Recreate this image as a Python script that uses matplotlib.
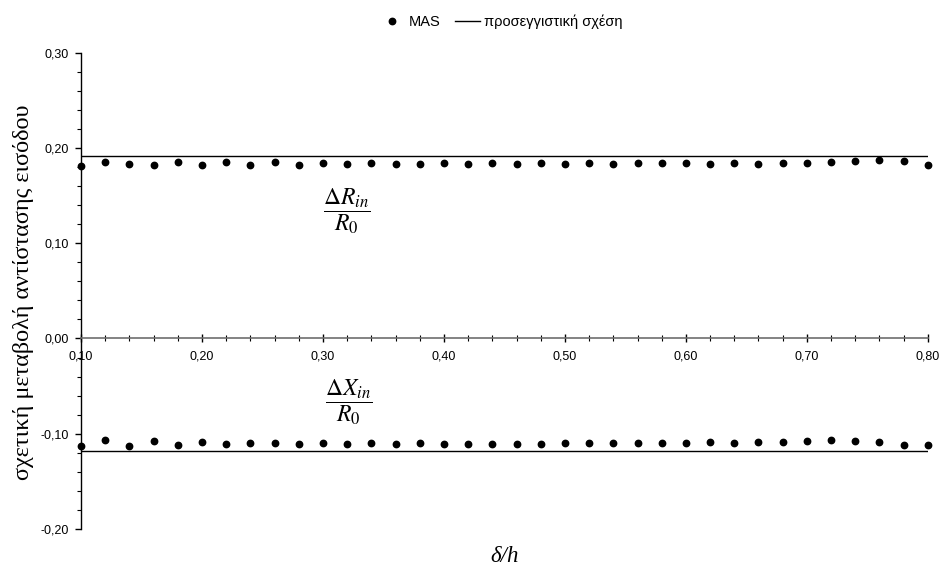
import matplotlib
matplotlib.use('Agg')
import matplotlib.pyplot as plt
import numpy as np
from matplotlib.ticker import MultipleLocator, FuncFormatter

# data
delta_h = [0.10, 0.12, 0.14, 0.16, 0.18, 0.20, 0.22, 0.24, 0.26, 0.28,
           0.30, 0.32, 0.34, 0.36, 0.38, 0.40, 0.42, 0.44, 0.46, 0.48,
           0.50, 0.52, 0.54, 0.56, 0.58, 0.60, 0.62, 0.64, 0.66, 0.68,
           0.70, 0.72, 0.74, 0.76, 0.78, 0.80]
mas_R = [0.1806, 0.1852, 0.1831, 0.1824, 0.1848, 0.1820, 0.1852, 0.1817, 0.1848, 0.1820,
         0.1841, 0.1827, 0.1838, 0.1834, 0.1834, 0.1838, 0.1831, 0.1838, 0.1831, 0.1838,
         0.1831, 0.1838, 0.1834, 0.1838, 0.1838, 0.1845, 0.1834, 0.1838, 0.1831, 0.1845,
         0.1838, 0.1855, 0.1862, 0.1869, 0.1862, 0.1817]
mas_X = [-0.1129, -0.1066, -0.1129, -0.1076, -0.1118, -0.1090, -0.1108, -0.1101, -0.1101, -0.1108,
         -0.1094, -0.1108, -0.1094, -0.1108, -0.1097, -0.1108, -0.1104, -0.1104, -0.1104, -0.1104,
         -0.1101, -0.1101, -0.1101, -0.1101, -0.1101, -0.1101, -0.1090, -0.1094, -0.1090, -0.1083,
         -0.1080, -0.1066, -0.1080, -0.1083, -0.1115, -0.1118]
approx_R = 0.192
approx_X = -0.1185

plt.rcParams['mathtext.fontset'] = 'stix'
sans = 'Liberation Sans'
serif = 'Liberation Serif'

fig = plt.figure(figsize=(9.42, 5.69), dpi=100)
ax = fig.add_axes([0.086, 0.0703, 0.899, 0.8371])

ax.plot(delta_h, mas_R, 'o', color='black', ms=4.6, clip_on=False, zorder=3, label='MAS')
ax.plot(delta_h, mas_X, 'o', color='black', ms=4.6, clip_on=False, zorder=3)
ax.plot([delta_h[0], delta_h[-1]], [approx_R, approx_R], '-', color='black', lw=1.0,
        label='προσεγγιστική σχέση')
ax.plot([delta_h[0], delta_h[-1]], [approx_X, approx_X], '-', color='black', lw=1.0)

ax.set_xlim(0.1, 0.8)
ax.set_ylim(-0.2, 0.3)

ax.spines['top'].set_visible(False)
ax.spines['right'].set_visible(False)
ax.spines['bottom'].set_position(('data', 0))
ax.spines['bottom'].set_color('#6e6e6e')
ax.spines['bottom'].set_linewidth(1.2)
ax.spines['left'].set_linewidth(1.0)

comma = FuncFormatter(lambda v, p: ('%.2f' % v).replace('.', ','))
ax.xaxis.set_major_locator(MultipleLocator(0.1))
ax.xaxis.set_minor_locator(MultipleLocator(0.02))
ax.yaxis.set_major_locator(MultipleLocator(0.1))
ax.yaxis.set_minor_locator(MultipleLocator(0.02))
ax.xaxis.set_major_formatter(comma)
ax.yaxis.set_major_formatter(comma)

ax.tick_params(axis='x', which='major', direction='inout', length=6, width=1.0, pad=6,
               labelsize=9)
ax.tick_params(axis='x', which='minor', direction='inout', length=4.5, width=0.8)
ax.tick_params(axis='y', which='major', direction='out', length=4, width=1.0, pad=5,
               labelsize=9)
ax.tick_params(axis='y', which='minor', direction='out', length=3, width=0.8)
for lab in ax.get_xticklabels() + ax.get_yticklabels():
    lab.set_family(sans)

ax.text(0.320, 0.134, r'$\dfrac{\Delta R_{in}}{R_0}$', fontsize=17, ha='center', va='center')
ax.text(0.3215, -0.0668, r'$\dfrac{\Delta X_{in}}{R_0}$', fontsize=17, ha='center', va='center')

fig.text(0.025, 0.487, 'σχετική μεταβολή αντίστασης εισόδου', rotation=90,
         ha='center', va='center', family=serif, fontsize=17.5)
fig.text(0.5355, 0.022, 'δ/h', ha='center', va='center', family=serif,
         style='italic', fontsize=16.5)

fig.legend(loc='center', bbox_to_anchor=(0.532, 0.962), ncol=2, frameon=False,
           prop={'family': sans, 'size': 10.5}, handlelength=1.7, handletextpad=0.3,
           columnspacing=1.0, borderpad=0)

fig.savefig('out.png', dpi=100)
